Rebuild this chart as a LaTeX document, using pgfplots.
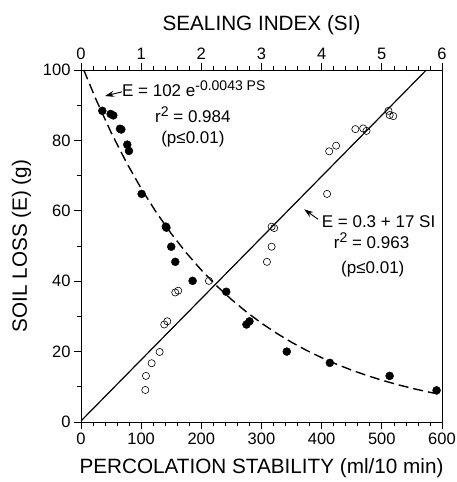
\documentclass[border=0pt]{standalone}
\usepackage{fontspec}
\setmainfont{Liberation Sans}
\usepackage{pgfplots}
\pgfplotsset{compat=1.18}
\usetikzlibrary{arrows.meta}

% filled: soil loss vs percolation stability
\pgfplotstableread{
PS E
35.4 88.4
49.3 87.5
53.7 87.1
64.8 83.3
67.0 83.1
76.9 78.8
79.7 77.0
100.8 64.8
141.0 55.5
142.0 55.2
150.0 49.8
156.7 45.5
185.5 40.1
241.4 37.0
275.0 27.7
280.0 28.6
342.0 20.0
413.6 16.8
513.0 13.1
591.0 9.0
}\psdata

% open: soil loss vs sealing index
\pgfplotstableread{
SI E
1.069 9.1
1.080 13.1
1.174 16.7
1.307 19.9
1.384 27.7
1.434 28.6
1.567 36.8
1.616 37.3
2.126 40.1
3.168 55.5
3.211 55.1
3.168 49.8
3.090 45.5
4.090 64.8
4.125 76.9
4.240 78.5
4.560 83.2
4.690 83.4
4.746 82.7
5.110 88.4
5.130 87.2
5.190 86.9
}\sidata

\newcommand\ann{\fontsize{17}{17}\selectfont}
\newcommand\supr[1]{\raisebox{6pt}{\fontsize{14}{14}\selectfont #1}}

\begin{document}
\begin{tikzpicture}
\pgfplotsset{
  every axis/.append style={
    scale only axis, width=361pt, height=352pt,
    ymin=0, ymax=100,
    axis line style={line width=0.8pt},
    tick style={line width=0.7pt, black},
    tick align=outside,
    major tick length=7pt, minor tick length=4pt,
    /pgf/number format/assume math mode=true,
    ticklabel style={font=\fontsize{16.5}{16.5}\selectfont},
    label style={font=\fontsize{20.7}{22}\selectfont},
  }
}
\begin{axis}[
  xmin=0, xmax=600,
  xtick={0,100,...,600}, minor x tick num=4,
  ytick={0,20,...,100}, minor y tick num=1,
  xtick pos=bottom, ytick pos=left,
  xlabel={PERCOLATION STABILITY (ml/10 min)},
  ylabel={SOIL LOSS (E) (g)},
  xlabel style={at={(axis description cs:0.5,-0.131)}, anchor=center},
  ylabel style={at={(axis description cs:-0.165,0.5)}, anchor=center},
  clip=false,
]
\addplot[black, line width=1.4pt, dash pattern=on 10pt off 5pt] coordinates {
  (4.6,100.0) (25,91.60) (50,82.27) (75,73.88) (100,66.35) (125,59.59)
  (150,53.52) (175,48.06) (200,43.16) (225,38.76) (250,34.81) (275,31.27)
  (300,28.08) (325,25.22) (350,22.65) (375,20.34) (400,18.27) (425,16.40)
  (450,14.73) (475,13.23) (500,11.88) (525,10.67) (550,9.58) (575,8.61)
  (593,7.97)
};
\addplot[only marks, mark=*, mark size=4pt, black] table[x=PS, y=E] {\psdata};

\draw[-{Stealth[length=9pt,width=6pt]}, line width=0.9pt] (axis cs:68,93.8) -- (axis cs:40,92.6);
\node[anchor=base west, font=\ann, inner sep=0pt]
  at (axis cs:68,92.6) {E = 102 e\supr{-0.0043 PS}};
\node[anchor=base, font=\ann, inner sep=0pt]
  at (axis cs:186,85.0) {r\supr{2} = 0.984};
\node[anchor=base, font=\ann, inner sep=0pt]
  at (axis cs:186,79.2) {(p≤0.01)};

\draw[-{Stealth[length=9pt,width=6pt]}, line width=0.9pt] (axis cs:394,57.6) -- (axis cs:371,60.4);
\node[anchor=base west, font=\ann, inner sep=0pt]
  at (axis cs:400,55.3) {E = 0.3 + 17 SI};
\node[anchor=base, font=\ann, inner sep=0pt]
  at (axis cs:483,49.2) {r\supr{2} = 0.963};
\node[anchor=base, font=\ann, inner sep=0pt]
  at (axis cs:485,42.3) {(p≤0.01)};
\end{axis}

\begin{axis}[
  xmin=0, xmax=6,
  axis x line*=top, axis y line=none,
  xtick={0,...,6}, minor x tick num=4,
  xlabel={SEALING INDEX (SI)},
  xlabel style={at={(axis description cs:0.5,1.128)}, anchor=center},
]
\addplot[black, line width=1.2pt] coordinates {(0,0.3) (5.74,100)};
\addplot[only marks, mark=o, mark size=3.6pt, black, line width=0.6pt] table[x=SI, y=E] {\sidata};
\end{axis}

\pgfresetboundingbox
\path (-81pt,-60pt) rectangle (376pt,422pt);
\end{tikzpicture}
\end{document}
